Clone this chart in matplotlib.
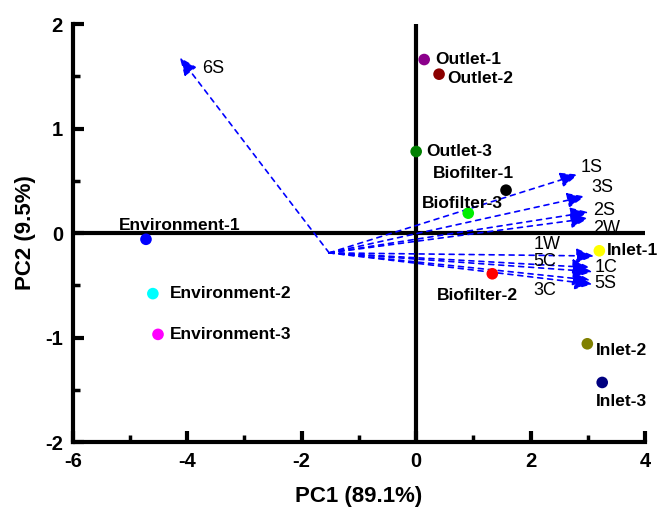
import numpy as np
import matplotlib.pyplot as plt
from matplotlib.ticker import MultipleLocator

plt.rcParams['font.family'] = ['Liberation Sans', 'DejaVu Sans']
plt.rcParams['axes.unicode_minus'] = False

# sample scores
samples = ['Outlet-1', 'Outlet-2', 'Outlet-3',
           'Biofilter-1', 'Biofilter-2', 'Biofilter-3',
           'Inlet-1', 'Inlet-2', 'Inlet-3',
           'Environment-1', 'Environment-2', 'Environment-3']
pc1 = [0.14, 0.40, 0.0, 1.57, 1.33, 0.91, 3.20, 2.99, 3.25, -4.72, -4.60, -4.51]
pc2 = [1.66, 1.52, 0.78, 0.41, -0.39, 0.19, -0.17, -1.06, -1.43, -0.06, -0.58, -0.97]
colors = ['#8b008b', '#8b0000', '#008000', 'black', 'red', '#00ee00',
          'yellow', '#808000', '#000080', 'blue', 'cyan', 'magenta']

# loadings (arrows)
origin = (-1.52, -0.19)
var_names = ['6S', '1S', '3S', '2S', '2W', '1W', '5C', '1C', '3C', '5S']
var_x = [-4.13, 2.83, 2.95, 3.01, 3.01, 3.11, 3.04, 3.08, 3.04, 3.08]
var_y = [1.68, 0.56, 0.35, 0.20, 0.14, -0.22, -0.33, -0.37, -0.45, -0.49]

# label offsets in pixels (dx, dy, ha)
sample_off = {
    'Outlet-1': (11, 0, 'left'), 'Outlet-2': (8, -4, 'left'),
    'Outlet-3': (10, 0, 'left'), 'Biofilter-1': (-33, 17, 'center'),
    'Biofilter-2': (-15, -22, 'center'), 'Biofilter-3': (-6, 10, 'center'),
    'Inlet-1': (8, 0, 'left'), 'Inlet-2': (9, -7, 'left'),
    'Inlet-3': (19, -19, 'center'), 'Environment-1': (34, 14, 'center'),
    'Environment-2': (17, 0, 'left'), 'Environment-3': (12, 0, 'left'),
}
var_off = {
    '6S': (22, -11), '1S': (2, 7), '3S': (6, 9), '2S': (5, 2), '2W': (5, -10),
    '1W': (-61, 12), '5C': (-57, 6), '3C': (-57, -10), '1C': (2, 4), '5S': (2, 1),
}

fig = plt.figure(figsize=(6.61, 5.11), dpi=100)
ax = fig.add_axes([0.110, 0.135, 0.866, 0.818])

ax.axhline(0, color='black', lw=3, zorder=2)
ax.axvline(0, color='black', lw=3, zorder=2)

for name, x, y in zip(var_names, var_x, var_y):
    ax.annotate('', xy=(x, y), xytext=origin,
                arrowprops=dict(arrowstyle='-|>,head_length=0.6,head_width=0.25',
                                color='blue', lw=1.2, ls=(0, (3, 3)),
                                mutation_scale=18, shrinkA=0, shrinkB=0),
                zorder=3)
    dx, dy = var_off[name]
    ax.annotate(name, (x, y), xytext=(dx, dy), textcoords='offset pixels',
                ha='left', va='center', fontsize=13, zorder=5)

ax.scatter(pc1, pc2, c=colors, s=70, zorder=4, edgecolors='none')
for name, x, y in zip(samples, pc1, pc2):
    dx, dy, ha = sample_off[name]
    ax.annotate(name, (x, y), xytext=(dx, dy), textcoords='offset pixels',
                ha=ha, va='center', fontsize=12.5, fontweight='bold', zorder=5)

ax.set_xlim(-6, 4)
ax.set_ylim(-2, 2)
ax.xaxis.set_major_locator(MultipleLocator(2))
ax.xaxis.set_minor_locator(MultipleLocator(1))
ax.yaxis.set_major_locator(MultipleLocator(1))
ax.yaxis.set_minor_locator(MultipleLocator(0.5))

for s in ['top', 'right']:
    ax.spines[s].set_visible(False)
for s in ['left', 'bottom']:
    ax.spines[s].set_linewidth(3)

ax.tick_params(which='major', direction='in', length=8, width=3,
               labelsize=14.5, pad=7)
ax.tick_params(which='minor', direction='in', length=5, width=2.5)
for lab in ax.get_xticklabels() + ax.get_yticklabels():
    lab.set_fontweight('bold')

ax.set_xlabel('PC1 (89.1%)', fontsize=16, fontweight='bold')
ax.set_ylabel('PC2 (9.5%)', fontsize=16, fontweight='bold')
ax.xaxis.set_label_coords(0.5, -0.105)
ax.yaxis.set_label_coords(-0.065, 0.5)

fig.savefig('out.png', dpi=100)
